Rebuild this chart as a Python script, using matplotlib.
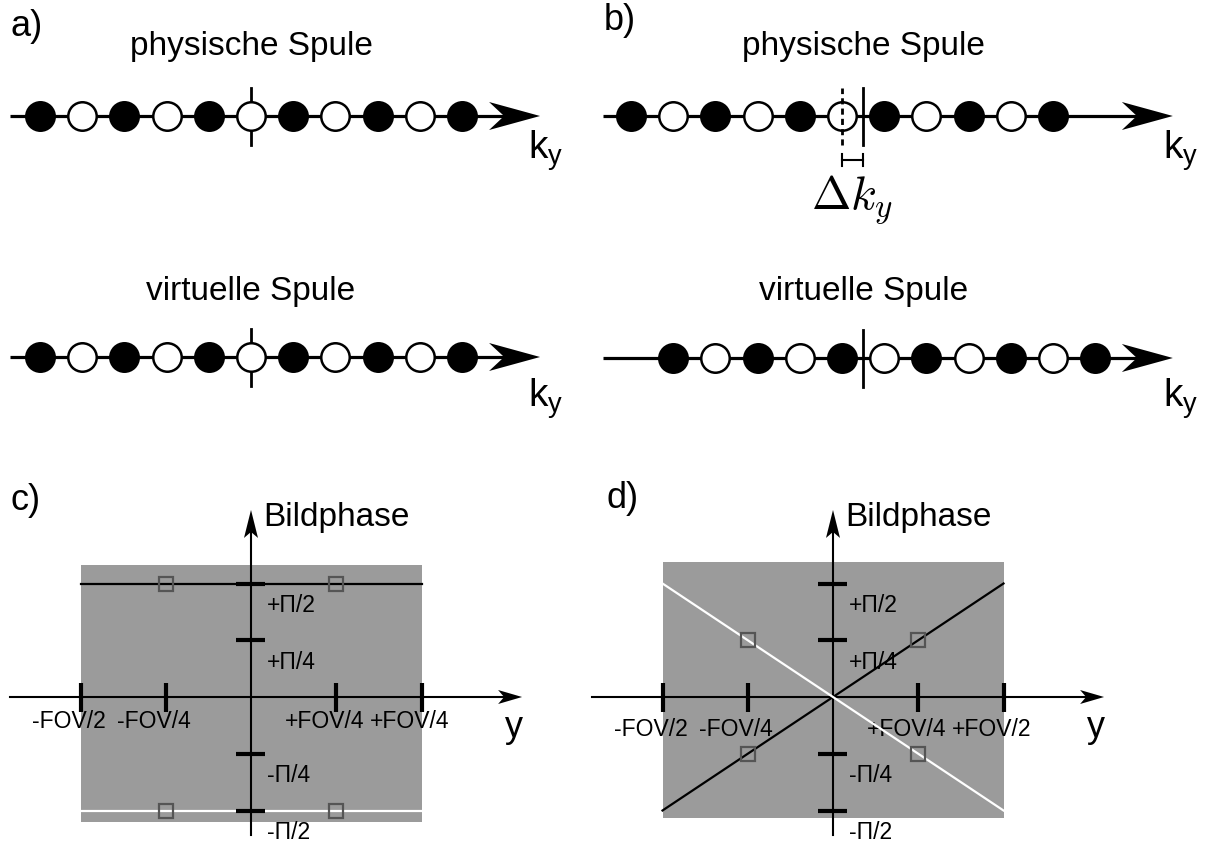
import numpy as np
import matplotlib
matplotlib.use('Agg')
import matplotlib.pyplot as plt
from matplotlib import transforms
from matplotlib.patches import Polygon, Rectangle

plt.rcParams['font.family'] = ['Liberation Sans', 'DejaVu Sans']
plt.rcParams['mathtext.fontset'] = 'cm'

W, H = 1207, 842

# k-space lines, in units of the sampling step
ky_phys_a = [-5, -4, -3, -2, -1, 0, 1, 2, 3, 4, 5]
ky_virt_a = [-5, -4, -3, -2, -1, 0, 1, 2, 3, 4, 5]
ky_phys_b = [-5, -4, -3, -2, -1, 0, 1, 2, 3, 4, 5]
ky_virt_b = [-4, -3, -2, -1, 0, 1, 2, 3, 4, 5, 6]
acquired = [1, 0, 1, 0, 1, 0, 1, 0, 1, 0, 1]
center_a = 0.0
center_b = 0.5     # k-space centre after the shift
dky = 0.5

# image phase over y
fov_ticks = [-0.5, -0.25, 0.25, 0.5]
fov_labels_c = ['-FOV/2', '-FOV/4', '+FOV/4', '+FOV/4']
fov_labels_d = ['-FOV/2', '-FOV/4', '+FOV/4', '+FOV/2']
phase_ticks = [0.5, 0.25, -0.25, -0.5]
phase_labels = ['+\u03a0/2', '+\u03a0/4', '-\u03a0/4', '-\u03a0/2']
y_ends = [-0.5, 0.5]
phase_black_c = [0.5, 0.5]
phase_white_c = [-0.5, -0.5]
phase_black_d = [-0.5, 0.5]
phase_white_d = [0.5, -0.5]
sq_y = [-0.25, 0.25, -0.25, 0.25]
sq_phase_c = [0.5, 0.5, -0.5, -0.5]
sq_phase_d = [0.25, 0.25, -0.25, -0.25]

fig = plt.figure(figsize=(W / 100, H / 100), dpi=100)


def px_axes(x0, y0, x1, y1, ox, oy, sx, sy):
    ax = fig.add_axes([x0 / W, 1 - y1 / H, (x1 - x0) / W, (y1 - y0) / H])
    ax.set_xlim((x0 - ox) / sx, (x1 - ox) / sx)
    ax.set_ylim((oy - y1) / sy, (oy - y0) / sy)
    ax.axis('off')
    return ax


def head(ax, x, y, L, hw, notch, up=False):
    if up:
        pts = [(0, 0), (-hw, -L), (0, -notch), (hw, -L)]
    else:
        pts = [(0, 0), (-L, hw), (-notch, 0), (-L, -hw)]
    tr = fig.dpi_scale_trans + transforms.ScaledTranslation(x, y, ax.transData)
    ax.add_patch(Polygon(np.array(pts) / 100.0, closed=True, transform=tr,
                         fc='black', ec='none', zorder=5, clip_on=False))


STEP = 42.2


def k_row(ax, ks, filled, x0, tip, lab_x, lab_y, title, title_x, title_y):
    ax.plot([x0, tip - 36 / STEP], [0, 0], color='black', lw=2.3,
            solid_capstyle='butt', zorder=1)
    head(ax, tip, 0, 51, 14, 36)
    for k, f in zip(ks, filled):
        ax.plot(k, 0, 'o', ms=20.5, mew=1.8, mec='black',
                mfc='black' if f else 'white', zorder=3)
    ax.text(lab_x, lab_y, r'$\mathregular{k_y}$', fontsize=28,
            ha='left', va='baseline')
    ax.text(title_x, title_y, title, fontsize=24, ha='center', va='baseline')


# a) unshifted sampling
ax = px_axes(0, 0, 590, 230, 251, 116, STEP, STEP)
k_row(ax, ky_phys_a, acquired, -5.71, 6.85, 6.56, -1.0,
      'physische Spule', center_a, 1.445)
ax.plot([center_a, center_a], [-0.68, 0.67], color='black', lw=2, zorder=0.5)

ax = px_axes(0, 240, 590, 460, 251, 357, STEP, STEP)
k_row(ax, ky_virt_a, acquired, -5.71, 6.85, 6.56, -1.18,
      'virtuelle Spule', center_a, 1.35)
ax.plot([center_a, center_a], [-0.68, 0.67], color='black', lw=2, zorder=0.5)

# b) sampling shifted by dky against the k-space centre
ax = px_axes(590, 0, 1207, 230, 842, 116, STEP, STEP)
k_row(ax, ky_phys_b, acquired, -5.66, 7.84, 7.61, -1.0,
      'physische Spule', center_b, 1.445)
ax.plot([center_b, center_b], [-0.68, 0.67], color='black', lw=2, zorder=4)
ax.plot([center_b - dky, center_b - dky], [-0.68, 0.67], color='black', lw=2,
        ls=(0, (2.2, 1.5)), zorder=4)
ax.plot([center_b - dky, center_b], [-1.04, -1.04], color='black', lw=1.5)
for xx in [center_b - dky, center_b]:
    ax.plot([xx, xx], [-1.18, -0.9], color='black', lw=1.5)
ax.text(center_b - dky / 2, -2.23, r'$\Delta k_y$', fontsize=34,
        ha='center', va='baseline')

ax = px_axes(590, 240, 1207, 460, 842, 358, STEP, STEP)
k_row(ax, ky_virt_b, acquired, -5.66, 7.84, 7.61, -1.16,
      'virtuelle Spule', center_b, 1.37)
ax.plot([center_b, center_b], [-0.68, 0.67], color='black', lw=2, zorder=4)


def phase_panel(x0, x1, ox, rect, labels, black, white, sq_phase, lab_dy):
    ax = px_axes(x0, 470, x1, 842, ox, 697, 341, 227)
    ax.add_patch(Rectangle((y_ends[0], rect[0]), y_ends[1] - y_ends[0],
                           rect[1] - rect[0], fc='#9b9b9b', ec='none', zorder=0))
    ax.plot(y_ends, black, color='black', lw=1.6, zorder=4)
    ax.plot(y_ends, white, color='white', lw=1.6, zorder=4)
    ax.plot(sq_y, sq_phase, 's', ms=10, mew=1.6, mec='#555555', mfc='none',
            zorder=6)
    # y axis and phase axis
    ax.plot([-0.708, 0.795 - 18 / 341], [0, 0], color='black', lw=1.5, zorder=2)
    head(ax, 0.795, 0, 24, 7, 18)
    ax.plot([0, 0], [-0.608, 0.824 - 22 / 227], color='black', lw=1.5, zorder=2)
    head(ax, 0, 0.824, 28, 7, 22, up=True)
    for t in fov_ticks:
        ax.plot([t, t], [-0.064, 0.062], color='black', lw=3, zorder=5,
                solid_capstyle='butt')
    for t in phase_ticks:
        ax.plot([-0.044, 0.041], [t, t], color='black', lw=3, zorder=5,
                solid_capstyle='butt')
    for t, s in zip(fov_ticks, labels):
        ax.annotate(s, (t, 0), xytext=(-12, -lab_dy), textcoords='offset pixels',
                    fontsize=16.5, ha='center', va='center', zorder=3)
    for t, s in zip(phase_ticks, phase_labels):
        ax.annotate(s, (0, t), xytext=(16, -22), textcoords='offset pixels',
                    fontsize=16.5, ha='left', va='center', zorder=3)
    ax.annotate('Bildphase', (0, 0.79), xytext=(12, 0), textcoords='offset pixels',
                fontsize=24, ha='left', va='center')
    ax.text(0.772, -0.135, 'y', fontsize=26, ha='center', va='center')
    return ax


phase_panel(0, 580, 251, (-0.551, 0.581), fov_labels_c,
            phase_black_c, phase_white_c, sq_phase_c, 25)
phase_panel(585, 1207, 833, (-0.533, 0.595), fov_labels_d,
            phase_black_d, phase_white_d, sq_phase_d, 33)

for s, x, y in [('a)', 10, 27), ('b)', 604, 21), ('c)', 10, 500), ('d)', 607, 499)]:
    fig.text(x / W, 1 - y / H, s, fontsize=26, ha='left', va='center')

fig.savefig('out.png', dpi=100)
